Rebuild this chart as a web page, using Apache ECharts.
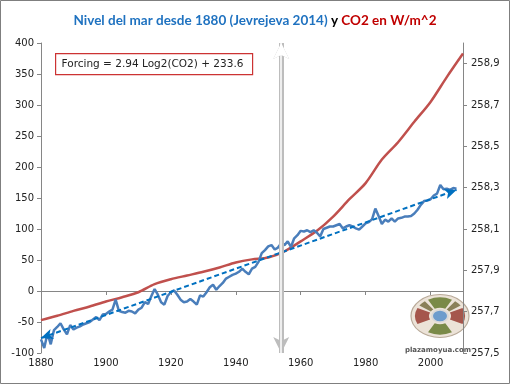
<!DOCTYPE html>
<html><head><meta charset="utf-8">
<script src="https://cdn.jsdelivr.net/npm/echarts@6/dist/echarts.min.js"></script>
<style>html,body{margin:0;padding:0;background:#fff}#c{width:510px;height:384px}</style>
</head><body><div id="c"></div>
<script>
// Sea level (mm, left axis), annual 1880-2008
const seaYears = [];
for (let y = 1880; y <= 2008; y++) seaYears.push(y);
const seaLevel = [
-78,-92,-68,-86,-63,-58,-52,-62,-70,-55,
-62,-59,-57,-54,-52,-50,-46,-42,-47,-38,
-37,-33,-30,-14,-32,-34,-35,-32,-33,-36,
-30,-27,-18,-21,-8,3,-6,-18,-22,-8,
-2,1,-6,-14,-18,-17,-13,-17,-22,-7,
-9,-2,6,10,2,8,13,20,23,26,
28,31,36,31,27,36,39,47,61,66,
72,74,67,70,77,74,80,71,85,90,
97,96,98,95,98,94,88,100,102,104,
104,106,108,101,104,106,104,101,99,104,
109,111,116,133,121,108,115,112,117,112,
117,118,120,120,121,125,131,139,145,146,
148,154,157,171,164,165,163,166,165
];
// CO2 forcing (W/m^2, right axis)
const co2Years = [1880,1885,1890,1895,1900,1905,1910,1915,1920,1925,1930,1935,1940,1945,1950,1955,1960,1965,1970,1975,1980,1985,1990,1995,2000,2005,2010];
const co2Forcing = [257.659,257.680,257.704,257.725,257.749,257.770,257.794,257.833,257.857,257.875,257.893,257.914,257.938,257.953,257.962,257.992,258.040,258.091,258.160,258.244,258.322,258.436,258.520,258.619,258.715,258.835,258.949];
// Trend line (dashed arrow) end points
const trendYears = [1880, 2008];
const trendLevel = [-76, 163];
// Vertical marker year
const markerYear = 1954;
// Tick settings
const xTicks = {min: 1880, max: 2010, interval: 20};
const leftTicks = {min: -100, max: 400, interval: 50};
const rightTicks = {min: 257.5, max: 259.0, interval: 0.2};

const chart = echarts.init(document.getElementById('c'));
const lblFont = {fontFamily: 'DejaVu Sans', fontSize: 10, color: '#222'};
const axisGrey = '#868686';

const option = {
  animation: false,
  title: {
    text: '{b|Nivel del mar desde 1880 (Jevrejeva 2014) }{k|y }{r|CO2 en W/m^2}',
    left: 'center', top: 9,
    textStyle: {
      rich: {
        b: {color: '#1f72c0', fontFamily: 'Lato', fontWeight: 'bold', fontSize: 13.5},
        k: {color: '#000', fontFamily: 'Lato', fontWeight: 'bold', fontSize: 13.5},
        r: {color: '#c00000', fontFamily: 'Lato', fontWeight: 'bold', fontSize: 13.5}
      }
    }
  },
  grid: {left: 41, right: 47, top: 43, bottom: 31, containLabel: false},
  xAxis: [
    {type: 'value', position: 'bottom', min: xTicks.min, max: xTicks.max, interval: xTicks.interval,
     axisLine: {show: false, onZero: false}, axisTick: {show: false}, splitLine: {show: false},
     axisLabel: Object.assign({margin: 5, showMaxLabel: false, formatter: v => String(v)}, lblFont)},
    {type: 'value', position: 'bottom', min: xTicks.min, max: xTicks.max, interval: xTicks.interval,
     axisLine: {show: true, onZero: true, onZeroAxisIndex: 0, lineStyle: {color: axisGrey, width: 1}},
     axisTick: {show: true, length: 4, lineStyle: {color: axisGrey}},
     axisLabel: {show: false}, splitLine: {show: false}}
  ],
  yAxis: [
    {type: 'value', position: 'left', min: leftTicks.min, max: leftTicks.max, interval: leftTicks.interval,
     axisLine: {show: true, onZero: false, lineStyle: {color: axisGrey}},
     axisTick: {show: true, length: 4, lineStyle: {color: axisGrey}},
     splitLine: {show: false},
     axisLabel: Object.assign({margin: 7}, lblFont)},
    {type: 'value', position: 'right', min: rightTicks.min, max: rightTicks.max, interval: rightTicks.interval,
     axisLine: {show: true, onZero: false, lineStyle: {color: axisGrey}},
     axisTick: {show: true, length: 4, lineStyle: {color: axisGrey}},
     splitLine: {show: false},
     axisLabel: Object.assign({margin: 8, showMaxLabel: false,
       formatter: v => v.toFixed(1).replace('.', ',')}, lblFont)}
  ],
  series: [
    {
      name: 'CO2', type: 'line', xAxisIndex: 0, yAxisIndex: 1,
      data: co2Years.map((y, i) => [y, co2Forcing[i]]),
      showSymbol: false, symbol: 'none', smooth: 0.3,
      lineStyle: {color: '#c0504d', width: 2.5}, z: 3
    },
    {
      name: 'Nivel', type: 'line', xAxisIndex: 0, yAxisIndex: 0,
      data: seaYears.map((y, i) => [y, seaLevel[i]]),
      showSymbol: false, symbol: 'none',
      lineStyle: {color: '#4a7ebb', width: 2.5}, z: 4,
      markLine: {
        silent: true, animation: false, label: {show: false},
        data: [
          [{coord: [trendYears[0], trendLevel[0]], symbol: 'arrow', symbolSize: [8, 12]},
           {coord: [trendYears[1], trendLevel[1]], symbol: 'arrow', symbolSize: [8, 12],
            lineStyle: {color: '#0070c0', width: 2, type: [5, 3]}}]
        ],
        lineStyle: {color: '#0070c0', width: 2, type: [5, 3]}
      }
    },
    {
      name: 'marker', type: 'line', xAxisIndex: 0, yAxisIndex: 0, data: [], z: 2,
      markLine: {
        silent: true, animation: false, label: {show: false},
        symbol: ['arrow', 'arrow'], symbolSize: [12, 16],
        data: [
          {xAxis: markerYear, lineStyle: {color: '#bdbdbd', width: 5, type: 'solid'}},
          {xAxis: markerYear, symbol: 'none', lineStyle: {color: '#ffffff', width: 1.5, type: 'solid'}}
        ]
      }
    }
  ],
  graphic: [
    {type: 'rect', shape: {x: 0.5, y: 0.5, width: 509, height: 383}, style: {fill: 'none', stroke: '#7f7f7f', lineWidth: 1}, z: 100},
    {type: 'group', left: 55, top: 53, z: 50, children: [
      {type: 'rect', shape: {x: 0, y: 0, width: 197, height: 21}, style: {fill: '#fff', stroke: '#cc3333', lineWidth: 1.2}},
      {type: 'text', x: 6, y: 11, style: {text: 'Forcing = 2.94 Log2(CO2) + 233.6', font: '10.5px "DejaVu Sans"', fill: '#222', verticalAlign: 'middle'}}
    ]},
    {type: 'group', x: 440, y: 316, scaleY: 0.74, z: 50, children: [
      {type: 'circle', shape: {cx: 0, cy: 0, r: 29}, style: {fill: '#ece3d8', stroke: '#b9aa99', lineWidth: 1.2}},
      {type: 'sector', shape: {cx: 0, cy: 0, r0: 11, r: 25, startAngle: -Math.PI*0.5-0.5, endAngle: -Math.PI*0.5+0.5}, style: {fill: '#7a8a48'}},
      {type: 'sector', shape: {cx: 0, cy: 0, r0: 11, r: 25, startAngle: Math.PI*0.5-0.5, endAngle: Math.PI*0.5+0.5}, style: {fill: '#7a8a48'}},
      {type: 'sector', shape: {cx: 0, cy: 0, r0: 11, r: 25, startAngle: -0.45, endAngle: 0.45}, style: {fill: '#a5564c'}},
      {type: 'sector', shape: {cx: 0, cy: 0, r0: 11, r: 25, startAngle: Math.PI-0.45, endAngle: Math.PI+0.45}, style: {fill: '#a5564c'}},
      {type: 'sector', shape: {cx: 0, cy: 0, r0: 11, r: 25, startAngle: -Math.PI*0.5+0.65, endAngle: -0.6}, style: {fill: '#8a8058'}},
      {type: 'sector', shape: {cx: 0, cy: 0, r0: 11, r: 25, startAngle: Math.PI+0.6, endAngle: Math.PI*1.5-0.65}, style: {fill: '#8a8058'}},
      {type: 'circle', shape: {cx: 0, cy: 0, r: 8}, style: {fill: '#6d9ccc', stroke: '#d8d8d8', lineWidth: 2}}
    ]},
    {type: 'text', x: 438, y: 350, style: {text: 'plazamoyua.com', font: 'bold 7px "DejaVu Sans"', fill: '#555', align: 'center', verticalAlign: 'middle'}, z: 50}
  ]
};
chart.setOption(option);
</script>
</body></html>
